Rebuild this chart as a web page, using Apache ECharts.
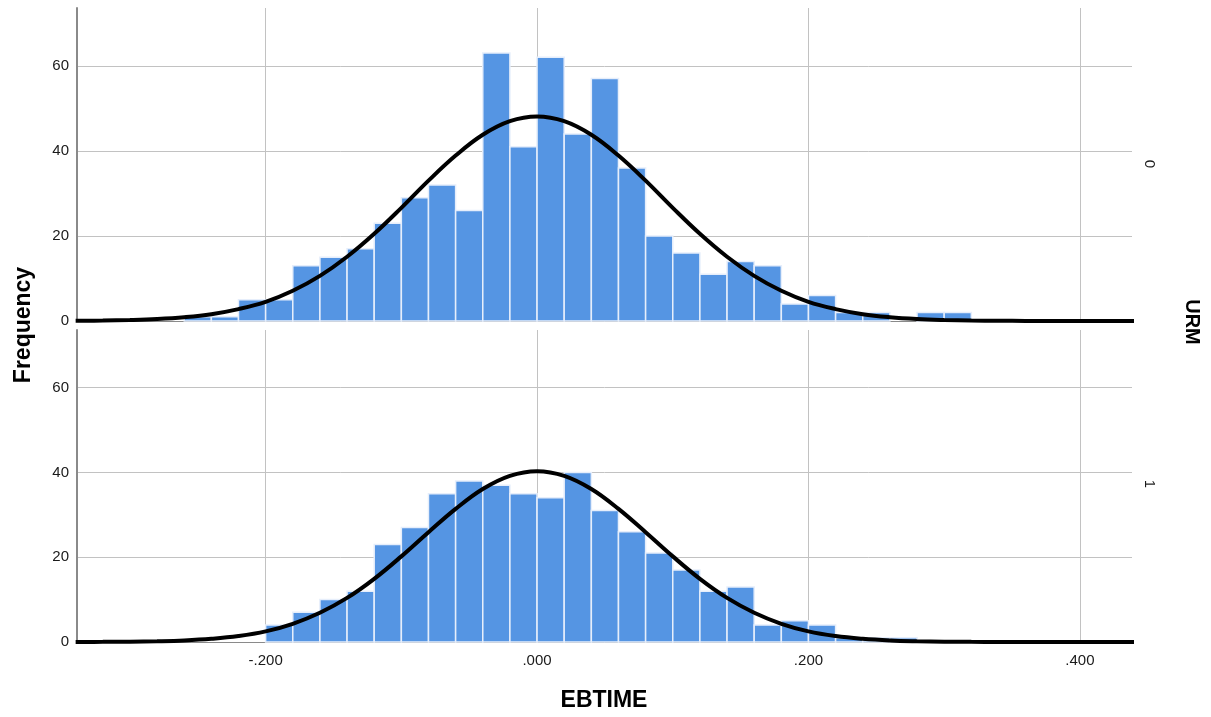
<!DOCTYPE html>
<html>
<head>
<meta charset="utf-8">
<script src="https://cdn.jsdelivr.net/npm/echarts@6/dist/echarts.min.js"></script>
<style>
  html, body { margin: 0; padding: 0; background: #ffffff; }
  #chart { width: 1211px; height: 717px; }
</style>
</head>
<body>
<div id="chart"></div>
<script>
// Histogram bins of EBTIME (lower edge of each 0.02-wide bin)
const binLow = [-0.26, -0.24, -0.22, -0.20, -0.18, -0.16, -0.14, -0.12, -0.10, -0.08,
                -0.06, -0.04, -0.02, 0.00, 0.02, 0.04, 0.06, 0.08, 0.10, 0.12,
                0.14, 0.16, 0.18, 0.20, 0.22, 0.24, 0.26, 0.28, 0.30];
const binWidth = 0.02;

// Frequencies per bin, URM = 0 (top panel) and URM = 1 (bottom panel)
const countsURM0 = [1, 1, 5, 5, 13, 15, 17, 23, 29, 32,
                    26, 63, 41, 62, 44, 57, 36, 20, 16, 11,
                    14, 13, 4, 6, 2, 2, 0, 2, 2];
const countsURM1 = [0, 0, 0, 4, 7, 10, 12, 23, 27, 35,
                    38, 37, 35, 34, 40, 31, 26, 21, 17, 12,
                    13, 4, 5, 4, 1, 1, 1, 0, 0];

// Normal curve heights (in frequency units) sampled along EBTIME
const curveX = [-0.34, -0.32, -0.30, -0.28, -0.26, -0.24, -0.22, -0.20, -0.18, -0.16,
                -0.14, -0.12, -0.10, -0.08, -0.06, -0.04, -0.02, 0.00, 0.02, 0.04,
                0.06, 0.08, 0.10, 0.12, 0.14, 0.16, 0.18, 0.20, 0.22, 0.24,
                0.26, 0.28, 0.30, 0.32, 0.34, 0.36, 0.38, 0.40, 0.42, 0.44];
const curveURM0 = [0.05, 0.11, 0.24, 0.47, 0.89, 1.6, 2.8, 4.5, 7.1, 10.6,
                   15.1, 20.5, 26.6, 33.0, 38.9, 43.8, 47.0, 48.1, 47.0, 43.8,
                   38.9, 33.0, 26.6, 20.5, 15.1, 10.6, 7.1, 4.5, 2.8, 1.6,
                   0.89, 0.47, 0.24, 0.11, 0.05, 0.02, 0.01, 0, 0, 0];
const curveURM1 = [0.01, 0.03, 0.08, 0.18, 0.37, 0.75, 1.4, 2.5, 4.3, 6.9,
                   10.4, 14.9, 20.2, 25.9, 31.4, 36.1, 39.2, 40.3, 39.2, 36.1,
                   31.4, 25.9, 20.2, 14.9, 10.4, 6.9, 4.3, 2.5, 1.4, 0.75,
                   0.37, 0.18, 0.08, 0.03, 0.01, 0, 0, 0, 0, 0];

// Axis ticks
const xTickValues = [-0.2, 0, 0.2, 0.4];
const xTickLabels = ['-.200', '.000', '.200', '.400'];
const yTickValues = [0, 20, 40, 60];
const panelLabels = ['0', '1'];

const FONT = '"Liberation Sans", Arial, sans-serif';
const X_MIN = -0.339, X_MAX = 0.4384, Y_MAX = 73.6;
const BAR_FILL = '#5595e3';
const GRID_LINE = '#c2c2c2';

const grids = [
  { left: 77, right: 79, top: 8, height: 313 },
  { left: 77, right: 79, top: 330, height: 312 }
];

function xAxisFor(gi) {
  return {
    type: 'value', gridIndex: gi, min: X_MIN, max: X_MAX,
    axisLine: { show: true, onZero: false, lineStyle: { color: '#8a8a8a', width: 1 } },
    axisTick: { show: false, customValues: xTickValues },
    axisLabel: {
      show: gi === 1, customValues: xTickValues,
      formatter: v => xTickLabels[xTickValues.findIndex(t => Math.abs(t - v) < 1e-9)],
      color: '#1a1a1a', fontFamily: FONT, fontSize: 15, margin: 11
    },
    splitLine: { show: true, lineStyle: { color: GRID_LINE, width: 1 } }
  };
}

function yAxisFor(gi) {
  return {
    type: 'value', gridIndex: gi, min: 0, max: Y_MAX,
    axisLine: { show: true, onZero: false, lineStyle: { color: '#8a8a8a', width: 2 } },
    axisTick: { show: false, customValues: yTickValues },
    axisLabel: {
      customValues: yTickValues,
      color: '#1a1a1a', fontFamily: FONT, fontSize: 15, margin: 8
    },
    splitLine: { show: true, lineStyle: { color: GRID_LINE, width: 1 } }
  };
}

function histSeries(counts, gi) {
  const data = [];
  binLow.forEach((lo, i) => {
    if (counts[i] > 0) data.push([lo, lo + binWidth, counts[i]]);
  });
  return {
    type: 'custom', xAxisIndex: gi, yAxisIndex: gi, z: 3,
    data: data,
    encode: { x: [0, 1], y: 2 },
    renderItem: function (params, api) {
      const topLeft = api.coord([api.value(0), api.value(2)]);
      const bottomRight = api.coord([api.value(1), 0]);
      return {
        type: 'rect',
        shape: {
          x: topLeft[0], y: topLeft[1],
          width: bottomRight[0] - topLeft[0],
          height: bottomRight[1] - topLeft[1]
        },
        style: { fill: BAR_FILL, stroke: '#e6eefb', lineWidth: 1.5 }
      };
    }
  };
}

function curveSeries(values, gi) {
  return {
    type: 'line', xAxisIndex: gi, yAxisIndex: gi, z: 5,
    data: curveX.map((x, i) => [x, values[i]]),
    smooth: 0.4, symbol: 'none', clip: true,
    lineStyle: { color: '#000000', width: 4 },
    silent: true
  };
}

const chart = echarts.init(document.getElementById('chart'), null, { renderer: 'canvas' });
chart.setOption({
  animation: false,
  backgroundColor: '#ffffff',
  grid: grids,
  xAxis: [xAxisFor(0), xAxisFor(1)],
  yAxis: [yAxisFor(0), yAxisFor(1)],
  series: [
    histSeries(countsURM0, 0),
    curveSeries(curveURM0, 0),
    histSeries(countsURM1, 1),
    curveSeries(curveURM1, 1)
  ],
  graphic: [
    {
      type: 'text', x: 24, y: 325, rotation: Math.PI / 2,
      style: { text: 'Frequency', font: 'bold 23px ' + FONT, fill: '#000', align: 'center', verticalAlign: 'middle' }
    },
    {
      type: 'text', x: 604, y: 701,
      style: { text: 'EBTIME', font: 'bold 23px ' + FONT, fill: '#000', align: 'center', verticalAlign: 'middle' }
    },
    {
      type: 'text', x: 1192, y: 322, rotation: -Math.PI / 2,
      style: { text: 'URM', font: 'bold 20px ' + FONT, fill: '#000', align: 'center', verticalAlign: 'middle' }
    },
    {
      type: 'text', x: 1149, y: 164, rotation: -Math.PI / 2,
      style: { text: panelLabels[0], font: '15px ' + FONT, fill: '#1a1a1a', align: 'center', verticalAlign: 'middle' }
    },
    {
      type: 'text', x: 1149, y: 484, rotation: -Math.PI / 2,
      style: { text: panelLabels[1], font: '15px ' + FONT, fill: '#1a1a1a', align: 'center', verticalAlign: 'middle' }
    }
  ]
});
</script>
</body>
</html>
